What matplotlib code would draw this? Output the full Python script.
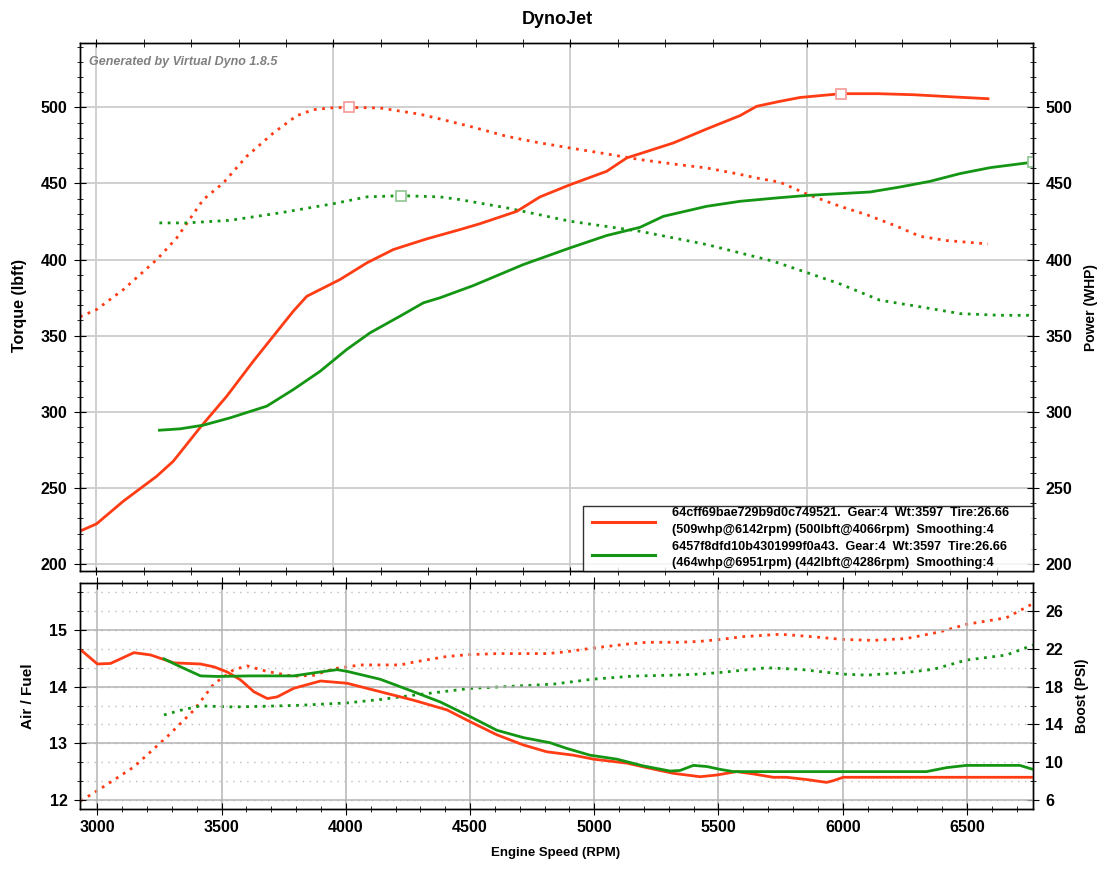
import matplotlib
matplotlib.use("Agg")
import matplotlib.pyplot as plt
from matplotlib.lines import Line2D
from matplotlib.legend_handler import HandlerLine2D
from matplotlib.ticker import MultipleLocator, NullFormatter
import numpy as np

plt.rcParams['font.family'] = ['Liberation Sans', 'DejaVu Sans']
plt.rcParams['font.weight'] = 'bold'

# ---- top panel: power (solid) and torque (dotted) ----
red_hp_rpm = [2931, 3001, 3114, 3255, 3325, 3437, 3550, 3662, 3775, 3831, 3888, 3944, 4028, 4141,
              4253, 4394, 4534, 4619, 4774, 4872, 4999, 5153, 5238, 5434, 5575, 5716, 5786, 5885,
              5969, 6142, 6300, 6450, 6602, 6762]
red_hp = [221.6, 226.4, 241.3, 257.7, 267.6, 289.5, 310.2, 333.2, 355.2, 366.1, 375.9, 380.3, 386.9, 397.8,
          406.6, 413.6, 419.7, 423.6, 431.7, 441.2, 449.2, 458.0, 466.8, 476.6, 485.8, 494.6, 500.7, 504.0,
          506.5, 509.0, 509.0, 508.3, 507.0, 505.7]

red_tq_rpm = [2931, 3001, 3114, 3255, 3339, 3451, 3536, 3634, 3747, 3845, 3915, 4000, 4066, 4197,
              4366, 4450, 4577, 4731, 4860, 4999, 5150, 5294, 5450, 5575, 5700, 5786, 5885, 6003,
              6138, 6250, 6377, 6475, 6588, 6762]
red_tq = [362.4, 367.2, 380.3, 400.0, 414.2, 439.4, 450.4, 467.8, 483.2, 494.5, 498.5, 499.8, 500.0, 499.6,
          495.5, 492.4, 487.5, 481.0, 477.0, 473.3, 469.5, 465.7, 462.5, 460.2, 456.5, 453.6, 450.8, 442.7,
          435.0, 429.5, 421.9, 415.3, 412.5, 410.3]

grn_hp_rpm = [3266, 3353, 3451, 3564, 3719, 3831, 3944, 4056, 4155, 4281, 4380, 4450, 4590, 4801,
              4999, 5153, 5294, 5392, 5575, 5716, 5885, 6003, 6264, 6391, 6517, 6644, 6771, 6951]
grn_hp = [287.9, 288.8, 291.2, 296.0, 303.7, 314.6, 326.6, 340.9, 351.9, 362.8, 371.6, 374.9, 382.9, 396.7,
          407.7, 415.8, 421.2, 428.4, 435.0, 438.3, 440.7, 442.2, 444.4, 447.7, 451.4, 456.5, 460.4, 464.0]

grn_tq_rpm = [3266, 3381, 3564, 3775, 4003, 4141, 4286, 4450, 4534, 4731, 4999, 5294, 5575, 5856,
              6003, 6138, 6306, 6475, 6644, 6813, 6951]
grn_tq = [424.1, 424.1, 425.8, 430.7, 436.8, 441.2, 442.0, 441.2, 439.4, 434.0, 425.2, 418.6, 409.9, 398.9,
          391.2, 384.0, 373.3, 369.0, 364.5, 363.4, 363.4]

# ---- bottom panel: air/fuel (solid) and boost (dotted) ----
red_afr_rpm = [2933, 3000, 3053, 3147, 3214, 3308, 3415, 3469, 3522, 3576, 3630, 3684, 3724, 3790,
               3898, 4005, 4139, 4273, 4407, 4501, 4608, 4715, 4809, 4916, 4997, 5131, 5211, 5318,
               5426, 5493, 5573, 5639, 5720, 5774, 5855, 5935, 5962, 6002, 6766]
red_afr = [14.65, 14.40, 14.41, 14.60, 14.56, 14.42, 14.40, 14.35, 14.26, 14.12, 13.91, 13.79, 13.82, 13.97,
           14.10, 14.06, 13.91, 13.76, 13.59, 13.38, 13.15, 12.97, 12.85, 12.79, 12.72, 12.65, 12.57, 12.47,
           12.41, 12.44, 12.50, 12.46, 12.40, 12.40, 12.36, 12.31, 12.34, 12.40, 12.40]

grn_afr_rpm = [3268, 3335, 3415, 3483, 3616, 3790, 3898, 3965, 4005, 4139, 4273, 4380, 4501, 4608,
               4715, 4822, 4889, 4983, 5091, 5198, 5305, 5345, 5399, 5453, 5506, 5560, 6337, 6418,
               6498, 6713, 6766]
grn_afr = [14.49, 14.35, 14.19, 14.18, 14.19, 14.19, 14.26, 14.30, 14.27, 14.13, 13.91, 13.73, 13.47, 13.23,
           13.10, 13.01, 12.91, 12.79, 12.72, 12.60, 12.51, 12.52, 12.61, 12.59, 12.54, 12.50, 12.50, 12.57,
           12.61, 12.61, 12.54]

red_boost_rpm = [2933, 3013, 3147, 3281, 3388, 3469, 3549, 3603, 3684, 3790, 3871, 3951, 4059, 4220,
                 4273, 4407, 4501, 4608, 4809, 4889, 4997, 5131, 5211, 5345, 5426, 5506, 5600, 5747,
                 5827, 6002, 6123, 6257, 6391, 6498, 6659, 6766]
red_boost = [5.9, 7.2, 9.5, 12.7, 15.5, 18.3, 19.8, 20.2, 19.6, 19.1, 19.2, 19.9, 20.3, 20.3,
             20.6, 21.2, 21.4, 21.5, 21.5, 21.7, 22.1, 22.5, 22.7, 22.7, 22.8, 23.0, 23.3, 23.55,
             23.4, 23.0, 22.9, 23.1, 23.8, 24.6, 25.3, 26.8]

grn_boost_rpm = [3268, 3335, 3415, 3549, 3684, 3817, 4005, 4139, 4273, 4407, 4501, 4675, 4836, 4997,
                 5158, 5318, 5426, 5506, 5694, 5828, 6002, 6096, 6257, 6364, 6498, 6659, 6766]
grn_boost = [15.0, 15.5, 15.96, 15.85, 15.93, 16.03, 16.28, 16.64, 17.1, 17.52, 17.81, 18.05, 18.27, 18.80,
             19.12, 19.22, 19.33, 19.5, 20.0, 19.83, 19.33, 19.22, 19.51, 19.83, 20.82, 21.35, 22.41]

legend_labels = [
    "64cff69bae729b9d0c749521.  Gear:4  Wt:3597  Tire:26.66\n(509whp@6142rpm) (500lbft@4066rpm)  Smoothing:4",
    "6457f8dfd10b4301999f0a43.  Gear:4  Wt:3597  Tire:26.66\n(464whp@6951rpm) (442lbft@4286rpm)  Smoothing:4",
]
boost_ticks = [6, 10, 14, 18, 22, 26]

RED = '#ff3c14'
GREEN = '#149614'
RED_MK = '#f5a0a0'
GREEN_MK = '#98c898'
DOT = (0, (1, 2))
W, H = 1112, 873

fig = plt.figure(figsize=(W / 100, H / 100), dpi=100)
ax = fig.add_axes([80 / W, 1 - 571 / H, (1033 - 80) / W, (571 - 43) / H])
ax_bot = fig.add_axes([80 / W, 1 - 809 / H, (1033 - 80) / W, (809 - 583) / H])

####### top panel #######
ax.plot(red_tq_rpm, red_tq, color=RED, lw=2, ls=DOT)
ax.plot(grn_tq_rpm, grn_tq, color=GREEN, lw=2, ls=DOT)
l_red, = ax.plot(red_hp_rpm, red_hp, color=RED, lw=2)
l_grn, = ax.plot(grn_hp_rpm, grn_hp, color=GREEN, lw=2)

# peak markers
for xs, ys, c in [(red_tq_rpm, red_tq, RED_MK), (grn_tq_rpm, grn_tq, GREEN_MK),
                  (red_hp_rpm, red_hp, RED_MK), (grn_hp_rpm, grn_hp, GREEN_MK)]:
    i = int(np.argmax(ys))
    ax.plot(xs[i], ys[i], marker='s', ms=6.5, mfc='white', mec=c, mew=1.3, zorder=5)

ax.set_xlim(2931, 6952)
ax.set_ylim(195.4, 542.3)
ax.xaxis.set_major_locator(MultipleLocator(1000))
ax.xaxis.set_minor_locator(MultipleLocator(200))
ax.xaxis.set_major_formatter(NullFormatter())
ax.yaxis.set_major_locator(MultipleLocator(50))
ax.yaxis.set_minor_locator(MultipleLocator(10))
ax.grid(which='major', color='#cccccc', lw=1.3)
ax.set_axisbelow(True)
ax.tick_params(axis='x', which='both', direction='inout', top=True, bottom=True, length=6)
ax.tick_params(axis='y', which='major', direction='inout', length=8, labelsize=11.5, pad=5)
ax.tick_params(axis='y', which='minor', direction='inout', length=4)

ax_pow = ax.twinx()
ax_pow.set_ylim(ax.get_ylim())
ax_pow.yaxis.set_major_locator(MultipleLocator(50))
ax_pow.yaxis.set_minor_locator(MultipleLocator(10))
ax_pow.tick_params(axis='y', which='major', direction='inout', length=8, labelsize=11.5, pad=5)
ax_pow.tick_params(axis='y', which='minor', direction='inout', length=4)

leg = ax_pow.legend([l_red, l_grn], legend_labels, loc='lower left',
                    bbox_to_anchor=((583 - 80) / 953, 0, (1033 - 583) / 953, 0.12), mode='expand',
                    borderaxespad=0, frameon=True, fancybox=False, fontsize=9.1,
                    handlelength=5.6, handletextpad=1.35, labelspacing=0.36, borderpad=0.12,
                    handler_map={Line2D: HandlerLine2D(xpad=0.6)})
leg.get_frame().set_edgecolor('black')
leg.get_frame().set_linewidth(1)
for t in leg.get_texts():
    t.set_linespacing(1.55)
for h in leg.legend_handles:
    h.set_linewidth(2.2)

ax.text(0.009, 0.975, "Generated by Virtual Dyno 1.8.5", transform=ax.transAxes, ha='left', va='top',
        fontsize=9, style='italic', color='#808080')

####### bottom panel #######
ax_bst = ax_bot.twinx()
ax_bot.set_zorder(2)
ax_bst.set_zorder(1)
ax_bot.patch.set_visible(False)

ax_bot.plot(red_afr_rpm, red_afr, color=RED, lw=2)
ax_bot.plot(grn_afr_rpm, grn_afr, color=GREEN, lw=2)
ax_bst.plot(red_boost_rpm, red_boost, color=RED, lw=2, ls=DOT)
ax_bst.plot(grn_boost_rpm, grn_boost, color=GREEN, lw=2, ls=DOT)

afr_lim = (11.84, 15.83)
ax_bot.set_xlim(2930, 6766)
ax_bot.set_ylim(afr_lim)
ax_bst.set_ylim(6 + (afr_lim[0] - 12) * 6, 6 + (afr_lim[1] - 12) * 6)

ax_bot.xaxis.set_major_locator(MultipleLocator(500))
ax_bot.xaxis.set_minor_locator(MultipleLocator(100))
ax_bot.yaxis.set_major_locator(MultipleLocator(1))
ax_bot.yaxis.set_minor_locator(MultipleLocator(1 / 3))
ax_bot.grid(which='major', color='#b4b4b4', lw=1.1)
ax_bot.tick_params(axis='x', which='both', direction='inout', top=True, bottom=True, labelsize=11.5, pad=4)
ax_bot.tick_params(axis='x', which='major', length=8)
ax_bot.tick_params(axis='x', which='minor', length=5)
ax_bot.tick_params(axis='y', which='major', direction='inout', length=8, labelsize=11.5, pad=5)
ax_bot.tick_params(axis='y', which='minor', direction='inout', length=5)

ax_bst.set_yticks(boost_ticks)
ax_bst.set_yticks(np.arange(6, 30, 2), minor=True)
ax_bst.grid(which='both', axis='y', color='#bbbbbb', lw=1, ls=(0, (1, 4)))
ax_bst.tick_params(axis='y', which='major', direction='inout', length=8, labelsize=11.5, pad=5)
ax_bst.tick_params(axis='y', which='minor', direction='inout', length=5)

for a in [ax, ax_pow, ax_bot, ax_bst]:
    for s in a.spines.values():
        s.set_linewidth(1)
        s.set_color('black')

####### labels #######
fig.text(557 / W, 1 - 20 / H, "DynoJet", ha='center', va='center', fontsize=13, fontweight='bold')
fig.text(20 / W, 1 - 305 / H, "Torque (lbft)", rotation=90, ha='center', va='center', fontsize=11.5)
fig.text(1091 / W, 1 - 307 / H, "Power (WHP)", rotation=90, ha='center', va='center', fontsize=10)
fig.text(28 / W, 1 - 696 / H, "Air / Fuel", rotation=90, ha='center', va='center', fontsize=11)
fig.text(1082 / W, 1 - 696 / H, "Boost (PSI)", rotation=90, ha='center', va='center', fontsize=10)
fig.text(556 / W, 1 - 853 / H, "Engine Speed (RPM)", ha='center', va='center', fontsize=9.5)

fig.savefig("out.png", dpi=100)
